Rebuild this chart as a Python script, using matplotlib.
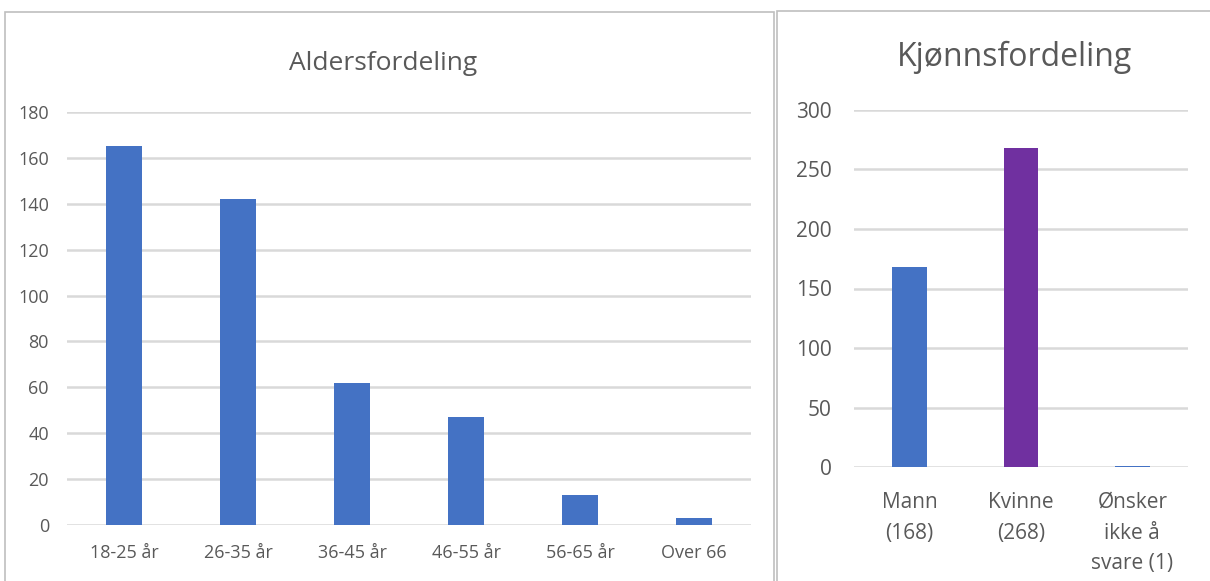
"""
Aldersfordeling og kjønnsfordeling - to stolpediagram side om side
"""

import matplotlib.pyplot as plt
from matplotlib.patches import Rectangle

# Data
age_groups = ['18-25 år', '26-35 år', '36-45 år', '46-55 år', '56-65 år', 'Over 66']
age_counts = [165, 142, 62, 47, 13, 3]

gender_labels = ['Mann\n(168)', 'Kvinne\n(268)', 'Ønsker\nikke å\nsvare (1)']
gender_counts = [168, 268, 1]
gender_colors = ['#4472C4', '#7030A0', '#4472C4']

W, H = 1210, 581
text_col = '#595959'
grid_col = '#D9D9D9'
fonts = ['Open Sans', 'DejaVu Sans']

fig = plt.figure(figsize=(W / 100, H / 100), dpi=100)


def px_axes(x0, y0, x1, y1):
    # pixel box (top-left origin) -> figure axes
    return fig.add_axes([x0 / W, 1 - y1 / H, (x1 - x0) / W, (y1 - y0) / H])


# panel borders
fig.patches.append(Rectangle((5 / W, -0.05), (774 - 5) / W, 1.05 - 12 / H,
                             transform=fig.transFigure, fill=False,
                             edgecolor='#BFBFBF', linewidth=1.2))
fig.patches.append(Rectangle((777 / W, -0.05), 0.5, 1.05 - 11 / H,
                             transform=fig.transFigure, fill=False,
                             edgecolor='#BFBFBF', linewidth=1.2))


def style(ax, ymax, step, size):
    ax.set_ylim(0, ymax)
    ax.set_yticks(range(0, ymax + 1, step))
    for s in ax.spines.values():
        s.set_visible(False)
    ax.grid(axis='y', color=grid_col, linewidth=1.8)
    ax.set_axisbelow(True)
    ax.tick_params(length=0, colors=text_col, labelsize=size)
    for lbl in ax.get_yticklabels() + ax.get_xticklabels():
        lbl.set_fontfamily(fonts)


# Left chart: age
ax1 = px_axes(67, 112, 751, 525)
x1 = range(len(age_groups))
ax1.bar(x1, age_counts, width=0.32, color='#4472C4')
ax1.set_xlim(-0.5, len(age_groups) - 0.5)
ax1.set_xticks(list(x1))
ax1.set_xticklabels(age_groups)
style(ax1, 180, 20, 13)
ax1.tick_params(axis='y', pad=13)
ax1.tick_params(axis='x', pad=14)
fig.text(383 / W, 1 - 63 / H, 'Aldersfordeling', ha='center', va='center',
         fontsize=19, color=text_col, family=fonts)

# Right chart: gender
ax2 = px_axes(854, 110, 1188, 467)
x2 = range(len(gender_labels))
ax2.bar(x2, gender_counts, width=0.31, color=gender_colors)
ax2.set_xlim(-0.5, len(gender_labels) - 0.5)
ax2.set_xticks(list(x2))
ax2.set_xticklabels(gender_labels, linespacing=1.6)
style(ax2, 300, 50, 15)
ax2.tick_params(axis='y', pad=16)
ax2.tick_params(axis='x', pad=18)
fig.text(1015 / W, 1 - 57 / H, 'Kjønnsfordeling', ha='center', va='center',
         fontsize=23, color=text_col, family=fonts)

plt.savefig('out.png', dpi=100)
plt.close()
